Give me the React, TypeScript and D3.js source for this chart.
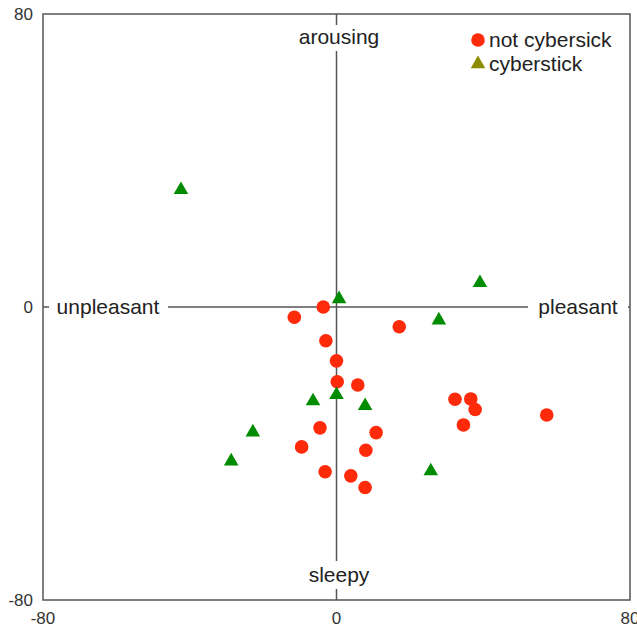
import React from "react";
import * as d3 from "d3";

const notSickX = [-3.6, -11.5, 17.1, -2.9, 0.0, 0.2, 5.8, 32.3, 36.6, 37.8, 34.6, 57.3, -4.5, 10.8, -9.5, 8.0, -3.1, 3.9, 7.8];
const notSickY = [0.0, -2.8, -5.4, -9.2, -14.7, -20.4, -21.3, -25.2, -25.1, -28.0, -32.2, -29.5, -33.0, -34.3, -38.2, -39.1, -45.0, -46.1, -49.3];
const sickX = [-42.4, 39.1, 0.7, 27.9, -6.4, 0.0, 7.8, -22.8, -28.7, 25.7];
const sickY = [32.0, 6.6, 2.2, -3.6, -25.7, -24.0, -27.0, -34.2, -42.1, -44.8];
const ticks = [-80, 0, 80];
const seriesNames = ["not cybersick", "cyberstick"];
const quadrantLabels = { top: "arousing", bottom: "sleepy", left: "unpleasant", right: "pleasant" };

export default function App() {
  const W = 637, H = 630;
  const x0 = 43, x1 = 630, y0 = 14, y1 = 600;
  const x = d3.scaleLinear().domain([-80, 80]).range([x0, x1]);
  const y = d3.scaleLinear().domain([-80, 80]).range([y1, y0]);
  const font = "'Liberation Sans', Arial, sans-serif";
  const red = "#ff2a0a";
  const green = "#008c00";
  const olive = "#8c8c00";
  const tri = d3.symbol().type(d3.symbolTriangle).size(92)() as string;
  const cx = x(0), cy = y(0);
  const lineColor = "#555";
  const fs = 21;

  return (
    <svg width={W} height={H} style={{ position: "absolute", left: 0, top: 0 }}>
      <rect x={0} y={0} width={W} height={H} fill="#fff" />
      {/* crosshair */}
      <line x1={x0} x2={x1} y1={cy} y2={cy} stroke={lineColor} strokeWidth={1.5} />
      <line x1={cx} x2={cx} y1={y0} y2={y1} stroke={lineColor} strokeWidth={1.5} />
      {/* quadrant labels with white backgrounds */}
      <rect x={290} y={25} width={98} height={26} fill="#fff" />
      <text x={339} y={44} textAnchor="middle" fontFamily={font} fontSize={fs} fill="#222">{quadrantLabels.top}</text>
      <rect x={300} y={561} width={80} height={28} fill="#fff" />
      <text x={339} y={582} textAnchor="middle" fontFamily={font} fontSize={fs} fill="#222">{quadrantLabels.bottom}</text>
      <rect x={49} y={294} width={119} height={26} fill="#fff" />
      <text x={108} y={314} textAnchor="middle" fontFamily={font} fontSize={fs} fill="#222">{quadrantLabels.left}</text>
      <rect x={528} y={294} width={100} height={26} fill="#fff" />
      <text x={578} y={314} textAnchor="middle" fontFamily={font} fontSize={fs} fill="#222">{quadrantLabels.right}</text>
      {/* frame */}
      <rect x={x0} y={y0} width={x1 - x0} height={y1 - y0} fill="none" stroke={lineColor} strokeWidth={1.5} />
      {/* ticks */}
      {ticks.map((t) => (
        <text key={"yl" + t} x={33} y={y(t)} dy="0.35em" textAnchor="end" fontFamily={font} fontSize={17} fill="#333">{t}</text>
      ))}
      {ticks.map((t) => (
        <text key={"xl" + t} x={x(t)} y={618} dy="0.35em" textAnchor="middle" fontFamily={font} fontSize={17} fill="#333">{t}</text>
      ))}
      {/* points */}
      {notSickX.map((v, i) => (
        <circle key={"n" + i} cx={x(v)} cy={y(notSickY[i])} r={6.8} fill={red} />
      ))}
      {sickX.map((v, i) => (
        <path key={"s" + i} d={tri} transform={`translate(${x(v)},${y(sickY[i])})`} fill={green} />
      ))}
      {/* legend */}
      <circle cx={478} cy={40} r={6.8} fill={red} />
      <text x={489} y={47} fontFamily={font} fontSize={fs} fill="#222">{seriesNames[0]}</text>
      <path d={tri} transform="translate(478,64)" fill={olive} />
      <text x={489} y={71} fontFamily={font} fontSize={fs} fill="#222">{seriesNames[1]}</text>
    </svg>
  );
}
